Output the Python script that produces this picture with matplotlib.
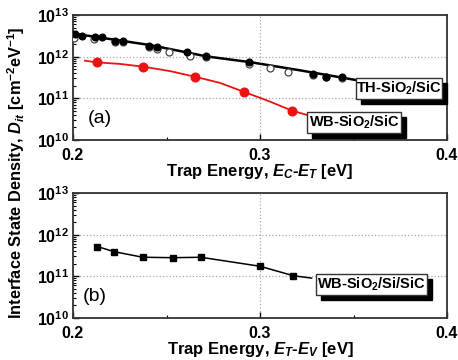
import matplotlib
matplotlib.use("Agg")
import matplotlib.pyplot as plt
from matplotlib.patches import Rectangle
from matplotlib.ticker import LogLocator, NullFormatter, FixedLocator

plt.rcParams['font.family'] = ['Liberation Sans', 'DejaVu Sans']
plt.rcParams['mathtext.fontset'] = 'custom'
plt.rcParams['mathtext.rm'] = 'Liberation Sans:bold'
plt.rcParams['mathtext.it'] = 'Liberation Sans:bold:italic'
plt.rcParams['mathtext.bf'] = 'Liberation Sans:bold'

# ---- data (a) ----
th_filled_x = [0.2013, 0.2047, 0.2117, 0.2153, 0.2225, 0.2266, 0.2406, 0.2449,
               0.2612, 0.2711, 0.2941, 0.3282, 0.3353, 0.3437]
th_filled_y = [3.5e12, 3.2e12, 3.0e12, 2.9e12, 2.4e12, 2.4e12, 1.84e12, 1.71e12,
               1.28e12, 1.01e12, 7.6e11, 3.8e11, 3.3e11, 3.2e11]
th_open_x = [0.2006, 0.2112, 0.2225, 0.2266, 0.2406, 0.2449, 0.2516, 0.2628,
             0.2711, 0.2941, 0.3053, 0.3150, 0.3282, 0.3353, 0.3437]
th_open_y = [2.76e12, 2.6e12, 2.2e12, 2.2e12, 1.68e12, 1.53e12, 1.29e12, 1.06e12,
             9.6e11, 6.7e11, 5.4e11, 4.4e11, 3.6e11, 3.3e11, 3.1e11]
th_fit_x = [0.200, 0.2412, 0.2717, 0.2947, 0.3214, 0.3513]
th_fit_y = [3.6e12, 1.9e12, 1.01e12, 7.4e11, 4.7e11, 2.75e11]

wb_x = [0.2127, 0.2376, 0.2652, 0.2916, 0.3170]
wb_y = [7.3e11, 5.75e11, 3.3e11, 1.42e11, 5.1e10]
wb_fit_x = [0.2064, 0.2127, 0.2251, 0.2376, 0.2519, 0.2652, 0.2786, 0.2916, 0.3043, 0.3170, 0.3250]
wb_fit_y = [8.0e11, 7.3e11, 6.7e11, 5.75e11, 4.5e11, 3.3e11, 2.35e11, 1.42e11, 8.7e10, 5.1e10, 4.0e10]

# ---- data (b) ----
si_x = [0.2130, 0.2221, 0.2373, 0.2536, 0.2683, 0.3000, 0.3178]
si_y = [5.2e11, 3.9e11, 2.87e11, 2.8e11, 2.87e11, 1.74e11, 1.03e11]
si_line_x = si_x + [0.3276]
si_line_y = si_y + [9.0e10]

x_ticks = [0.2, 0.3, 0.4]
x_tick_labels = ['0.2', '0.3', '0.4']
y_ticks = [1e10, 1e11, 1e12, 1e13]

fig = plt.figure(figsize=(4.58, 3.60), dpi=100)
W, H = 458, 360
ax1 = fig.add_axes([73/W, 1-140/H, 374/W, 125/H])
ax2 = fig.add_axes([73/W, 1-317.7/H, 374/W, 124.4/H])


def style(ax):
    ax.set_xlim(0.2, 0.4)
    ax.set_yscale('log')
    ax.set_ylim(1e10, 1e13)
    ax.set_xticks(x_ticks)
    ax.set_xticklabels(x_tick_labels)
    ax.xaxis.set_minor_locator(FixedLocator([0.25, 0.35]))
    ax.set_yticks(y_ticks)
    ax.yaxis.set_minor_locator(LogLocator(base=10, subs=range(2, 10)))
    ax.yaxis.set_minor_formatter(NullFormatter())
    ax.tick_params(which='both', direction='in', right=False, top=False)
    ax.tick_params(which='major', length=4, width=1.0, labelsize=11.5)
    ax.tick_params(axis='x', which='major', pad=6)
    ax.tick_params(axis='y', which='major', pad=3)
    ax.tick_params(which='minor', length=2, width=0.8)
    for lbl in ax.get_xticklabels() + ax.get_yticklabels():
        lbl.set_fontweight('bold')
    for s in ax.spines.values():
        s.set_linewidth(1.3)
        s.set_color('#333333')
    ax.grid(True, which='major', color='#aaaaaa', linestyle=':', linewidth=0.9)
    ax.set_axisbelow(True)


def label_box(ax, x0, y0, x1, y1, text):
    off_x = 5 / 374
    off_y = 5 / 125
    ax.add_patch(Rectangle((x0 + off_x, y0 - off_y), x1 - x0, y1 - y0,
                           transform=ax.transAxes, facecolor='black',
                           edgecolor='black', zorder=5, clip_on=False))
    ax.add_patch(Rectangle((x0, y0), x1 - x0, y1 - y0, transform=ax.transAxes,
                           facecolor='white', edgecolor='#333333', linewidth=1.0,
                           zorder=6, clip_on=False))
    ax.text((x0 + x1) / 2, (y0 + y1) / 2, text, transform=ax.transAxes,
            ha='center', va='center', fontsize=10.5, fontweight='bold', zorder=7)


style(ax1)
style(ax2)

# panel (a)
ax1.plot(th_fit_x, th_fit_y, color='black', linewidth=1.8, zorder=3)
ax1.plot(th_open_x, th_open_y, linestyle='none', marker='o', markersize=5,
         markerfacecolor='white', markeredgecolor='#444444', markeredgewidth=0.9, zorder=3)
ax1.plot(th_filled_x, th_filled_y, linestyle='none', marker='o', markersize=4.8,
         markerfacecolor='black', markeredgecolor='black', zorder=4)
ax1.plot(wb_fit_x, wb_fit_y, color='#ee1111', linewidth=1.3, zorder=3)
ax1.plot(wb_x, wb_y, linestyle='none', marker='o', markersize=6.2,
         markerfacecolor='#ee1111', markeredgecolor='#ee1111', zorder=4)
ax1.text(0.04, 0.10, '(a)', transform=ax1.transAxes, fontsize=14, ha='left', va='bottom')
label_box(ax1, 0.757, 0.328, 0.987, 0.496, 'TH-SiO$_{2}$/SiC')
label_box(ax1, 0.626, 0.056, 0.877, 0.224, 'WB-SiO$_{2}$/SiC')
ax1.set_xlabel('Trap Energy, $\\mathit{E}_{C}$-$\\mathit{E}_{T}$ [eV]',
               fontsize=12, fontweight='bold', labelpad=-1)

# panel (b)
ax2.plot(si_line_x, si_line_y, color='black', linewidth=1.1, zorder=3)
ax2.plot(si_x, si_y, linestyle='none', marker='s', markersize=5,
         markerfacecolor='black', markeredgecolor='black', zorder=4)
ax2.text(0.027, 0.10, '(b)', transform=ax2.transAxes, fontsize=14, ha='left', va='bottom')
label_box(ax2, 0.650, 0.182, 0.947, 0.351, 'WB-SiO$_{2}$/Si/SiC')
ax2.set_xlabel('Trap Energy, $\\mathit{E}_{T}$-$\\mathit{E}_{V}$ [eV]',
               fontsize=12, fontweight='bold', labelpad=-1)

fig.text(0.035, 0.52, 'Interface State Density, $\\mathit{D}_{it}$ [cm$^{-2}$eV$^{-1}$]',
         rotation=90, ha='center', va='center', fontsize=11.8, fontweight='bold')

fig.savefig('out.png', dpi=100)
